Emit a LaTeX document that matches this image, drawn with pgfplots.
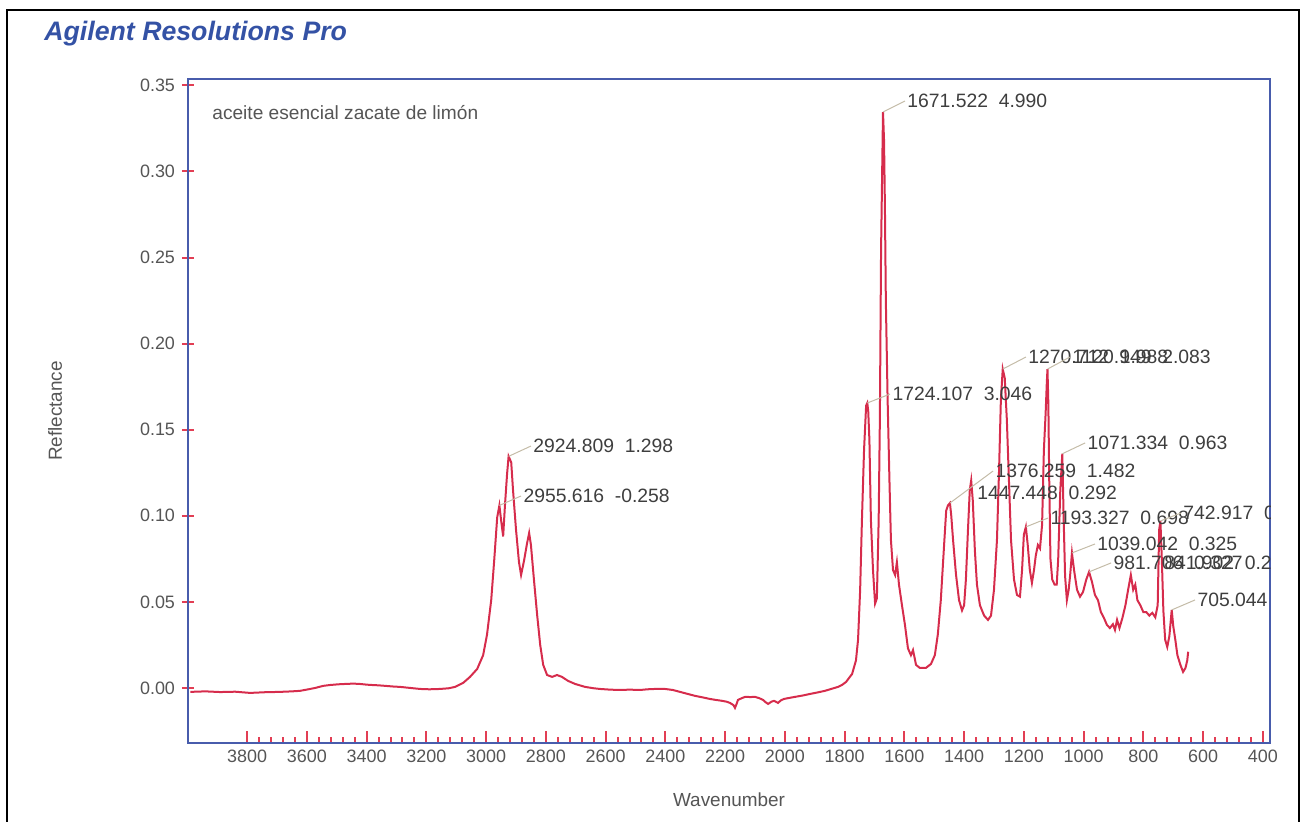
\documentclass[border=0pt]{standalone}
\usepackage{fontspec}
\setmainfont{Liberation Sans}
\usepackage{pgfplots}
\pgfplotsset{compat=1.18}

\definecolor{agblue}{RGB}{52,82,165}
\definecolor{frameblue}{RGB}{72,92,172}
\definecolor{tickred}{RGB}{226,62,84}
\definecolor{specred}{RGB}{214,44,76}
\definecolor{labgray}{RGB}{62,62,62}
\definecolor{axgray}{RGB}{85,85,85}
\definecolor{leadgray}{RGB}{196,188,168}

\tikzset{
  peaklab/.style={anchor=west, inner sep=1bp, text=labgray,
    font=\fontsize{9.7}{11}\selectfont},
  leader/.style={leadgray, line width=0.5bp}
}

\begin{document}
\begin{tikzpicture}[x=1bp,y=1bp]
% report frame
\draw[line width=1bp, black] (3.5,-2) -- (3.5,405.5) -- (649.5,405.5) -- (649.5,-2);
\node[anchor=base west, inner sep=0, text=agblue,
      font=\fontsize{13.4}{15}\selectfont\bfseries\itshape] at (22,390) {Agilent Resolutions Pro};

\begin{axis}[
  at={(94bp,39bp)}, anchor=south west,
  scale only axis, width=541bp, height=332bp,
  x dir=reverse,
  xmin=376, xmax=3998, ymin=-0.032, ymax=0.3537,
  axis line style={frameblue, line width=1bp},
  tick pos=left,
  xtick={400,600,...,3800},
  minor x tick num=4,
  ytick={0,0.05,0.1,0.15,0.2,0.25,0.3,0.35},
  xtick align=inside, ytick align=center,
  major tick length=6bp, minor tick length=3bp,
  tick style={tickred, line width=1bp},
  major tick style={tickred, line width=1bp},
  minor tick style={tickred, line width=1bp},
  scaled y ticks=false,
  ticklabel style={font=\fontsize{9}{10}\selectfont, text=axgray},
  /pgf/number format/assume math mode=true,
  xticklabel style={/pgf/number format/set thousands separator={}},
  yticklabel style={/pgf/number format/fixed, /pgf/number format/fixed zerofill,
                    /pgf/number format/precision=2},
  xlabel={Wavenumber}, ylabel={Reflectance},
  label style={font=\fontsize{9.5}{11}\selectfont, text=axgray},
  xlabel style={at={(axis description cs:0.5,-0.0858)}, anchor=center},
  ylabel style={at={(axis description cs:-0.1229,0.5)}, anchor=center},
]
\addplot[specred, line width=1bp] coordinates {
(3990,-0.0023) (3940,-0.0020) (3890,-0.0024) (3840,-0.0022) (3790,-0.0029)
(3740,-0.0025) (3690,-0.0023) (3650,-0.0020) (3623,-0.0017) (3595,-0.0008)
(3572,0.0000) (3545,0.0012) (3522,0.0017) (3495,0.0021) (3472,0.0023)
(3445,0.0025) (3422,0.0023) (3400,0.0019) (3382,0.0017) (3360,0.0015)
(3338,0.0012) (3310,0.0008) (3288,0.0006) (3255,0.0000) (3221,-0.0006)
(3190,-0.0008) (3154,-0.0006) (3125,-0.0002) (3104,0.0006) (3077,0.0029)
(3054,0.0064) (3030,0.0110) (3010,0.0190) (2997,0.0310) (2983,0.0510)
(2973,0.0740) (2963,0.0990) (2955.6,0.1060) (2950,0.0976) (2943,0.0880)
(2937,0.1060) (2930,0.1240) (2924.8,0.1345) (2916,0.1310) (2910,0.1150)
(2900,0.0920) (2890,0.0730) (2883,0.0656) (2873,0.0740) (2863,0.0840)
(2856,0.0900) (2850,0.0830) (2840,0.0630) (2829,0.0420) (2819,0.0250)
(2809,0.0134) (2796,0.0075) (2779,0.0064) (2763,0.0075) (2746,0.0064)
(2726,0.0041) (2702,0.0023) (2669,0.0006) (2640,-0.0002) (2619,-0.0006)
(2585,-0.0010) (2552,-0.0012) (2520,-0.0010) (2485,-0.0012) (2460,-0.0008)
(2435,-0.0006) (2401,-0.0006) (2375,-0.0012) (2351,-0.0023) (2325,-0.0035)
(2301,-0.0046) (2275,-0.0055) (2251,-0.0064) (2230,-0.0070) (2210,-0.0075)
(2195,-0.0080) (2184,-0.0087) (2172,-0.0100) (2167,-0.0116) (2161,-0.0090)
(2157,-0.0070) (2145,-0.0060) (2133,-0.0052) (2115,-0.0053) (2100,-0.0052)
(2085,-0.0060) (2073,-0.0070) (2063,-0.0085) (2056,-0.0093) (2045,-0.0080)
(2036,-0.0075) (2023,-0.0087) (2013,-0.0072) (2003,-0.0064) (1985,-0.0058)
(1966,-0.0052) (1940,-0.0044) (1916,-0.0035) (1890,-0.0026) (1866,-0.0017)
(1845,-0.0006) (1822,0.0006) (1808,0.0018) (1795,0.0035) (1775,0.0081)
(1762,0.0160) (1755,0.0280) (1748,0.0570) (1742,0.0976) (1735,0.1380)
(1728,0.1640) (1724.1,0.1655) (1721,0.1610) (1717,0.1440) (1712,0.0976)
(1705,0.0685) (1698,0.0490) (1692,0.0520) (1686,0.0976) (1682,0.1560)
(1678,0.2540) (1671.5,0.3345) (1668,0.3180) (1665,0.2780) (1662,0.2250)
(1656,0.1670) (1650,0.1210) (1645,0.0860) (1638,0.0685) (1631,0.0656)
(1625,0.0730) (1618,0.0600) (1608,0.0480) (1598,0.0366) (1588,0.0230)
(1578,0.0190) (1571,0.0220) (1561,0.0134) (1548,0.0116) (1528,0.0116)
(1511,0.0139) (1498,0.0190) (1488,0.0310) (1478,0.0510) (1467,0.0830)
(1460,0.1030) (1454,0.1060) (1447.4,0.1074) (1443,0.1000) (1437,0.0860)
(1427,0.0656) (1417,0.0510) (1407,0.0450) (1400,0.0480) (1394,0.0630)
(1387,0.0920) (1381,0.1150) (1376.3,0.1205) (1371,0.1090) (1364,0.0800)
(1357,0.0600) (1347,0.0480) (1333,0.0420) (1320,0.0395) (1310,0.0420)
(1300,0.0570) (1290,0.0860) (1283,0.1266) (1277,0.1670) (1270.7,0.1852)
(1264,0.1800) (1257,0.1560) (1250,0.1210) (1243,0.0860) (1233,0.0630)
(1223,0.0540) (1213,0.0530) (1206,0.0685) (1200,0.0890) (1193.3,0.0935)
(1187,0.0830) (1180,0.0685) (1173,0.0610) (1166,0.0685) (1160,0.0770)
(1153,0.0830) (1146,0.0810) (1139,0.0947) (1133,0.1380) (1127,0.1600)
(1123,0.1780) (1120.9,0.1852) (1118,0.1650) (1115,0.1200) (1111,0.0750)
(1105,0.0630) (1097,0.0600) (1090,0.0600) (1085,0.0750) (1078,0.1150)
(1071.3,0.1360) (1067,0.1000) (1062,0.0650) (1056,0.0510) (1050,0.0570)
(1045,0.0656) (1039,0.0784) (1032,0.0685) (1022,0.0570) (1012,0.0530)
(1002,0.0557) (991,0.0630) (981.7,0.0674) (972,0.0616) (962,0.0540)
(952,0.0510) (942,0.0440) (932,0.0407) (922,0.0366) (912,0.0348)
(902,0.0370) (895,0.0337) (888,0.0395) (880,0.0348) (870,0.0407)
(860,0.0480) (851,0.0570) (841.9,0.0656) (834,0.0570) (827,0.0600)
(820,0.0510) (810,0.0480) (800,0.0440) (790,0.0440) (780,0.0420)
(770,0.0436) (760,0.0410) (752,0.0480) (747,0.0920) (742.9,0.0970)
(738,0.0740) (733,0.0450) (727,0.0280) (720,0.0238) (713,0.0300)
(705,0.0453) (700,0.0360) (693,0.0280) (686,0.0190) (676,0.0134)
(667,0.0093) (659,0.0116) (653,0.0160) (650,0.0210)
};

\node[anchor=west, inner sep=0, text=axgray, font=\fontsize{9.6}{11}\selectfont]
  at (axis description cs:0.0222,0.950) {aceite esencial zacate de limón};

% peak annotations, clipped to the plot area
\begin{scope}
\clip (rel axis cs:0,0) rectangle (rel axis cs:1,1);
\draw[leader] (axis cs:2924.8,0.1345) -- (axis cs:2850,0.1405) node[peaklab] {2924.809\ \ 1.298};
\draw[leader] (axis cs:2955.6,0.1060) -- (axis cs:2883,0.1115) node[peaklab] {2955.616\ \ -0.258};
\draw[leader] (axis cs:1724.1,0.1655) -- (axis cs:1648,0.1707) node[peaklab] {1724.107\ \ 3.046};
\draw[leader] (axis cs:1671.5,0.3345) -- (axis cs:1598,0.3409) node[peaklab] {1671.522\ \ 4.990};
\draw[leader] (axis cs:1270.7,0.1852) -- (axis cs:1193,0.1922) node[peaklab] {1270.712\ \ 1.988};
\draw[leader] (axis cs:1120.9,0.1852) -- (axis cs:1046,0.1922) node[peaklab] {1120.949\ \ 2.083};
\draw[leader] (axis cs:1071.3,0.1360) -- (axis cs:995,0.1423) node[peaklab] {1071.334\ \ 0.963};
\draw[leader] (axis cs:1447.4,0.1074) -- (axis cs:1303,0.1260) node[peaklab] {1376.259\ \ 1.482};
\node[peaklab] at (axis cs:1364,0.1132) {1447.448\ \ 0.292};
\draw[leader] (axis cs:1193.3,0.0935) -- (axis cs:1119,0.0987) node[peaklab] {1193.327\ \ 0.698};
\draw[leader] (axis cs:742.9,0.0970) -- (axis cs:674,0.1016) node[peaklab] {742.917\ \ 0.471};
\draw[leader] (axis cs:1039,0.0784) -- (axis cs:962,0.0836) node[peaklab] {1039.042\ \ 0.325};
\draw[leader] (axis cs:981.7,0.0674) -- (axis cs:908,0.0726) node[peaklab] {981.706\ \ 0.327};
\node[peaklab] at (axis cs:738,0.0726) {841.902\ \ 0.227};
\draw[leader] (axis cs:705,0.0453) -- (axis cs:627,0.0511) node[peaklab] {705.044\ \ 0.154};
\end{scope}
\end{axis}
% page size
\pgfresetboundingbox
\useasboundingbox (0,0) rectangle (652,410.5);
\end{tikzpicture}
\end{document}
